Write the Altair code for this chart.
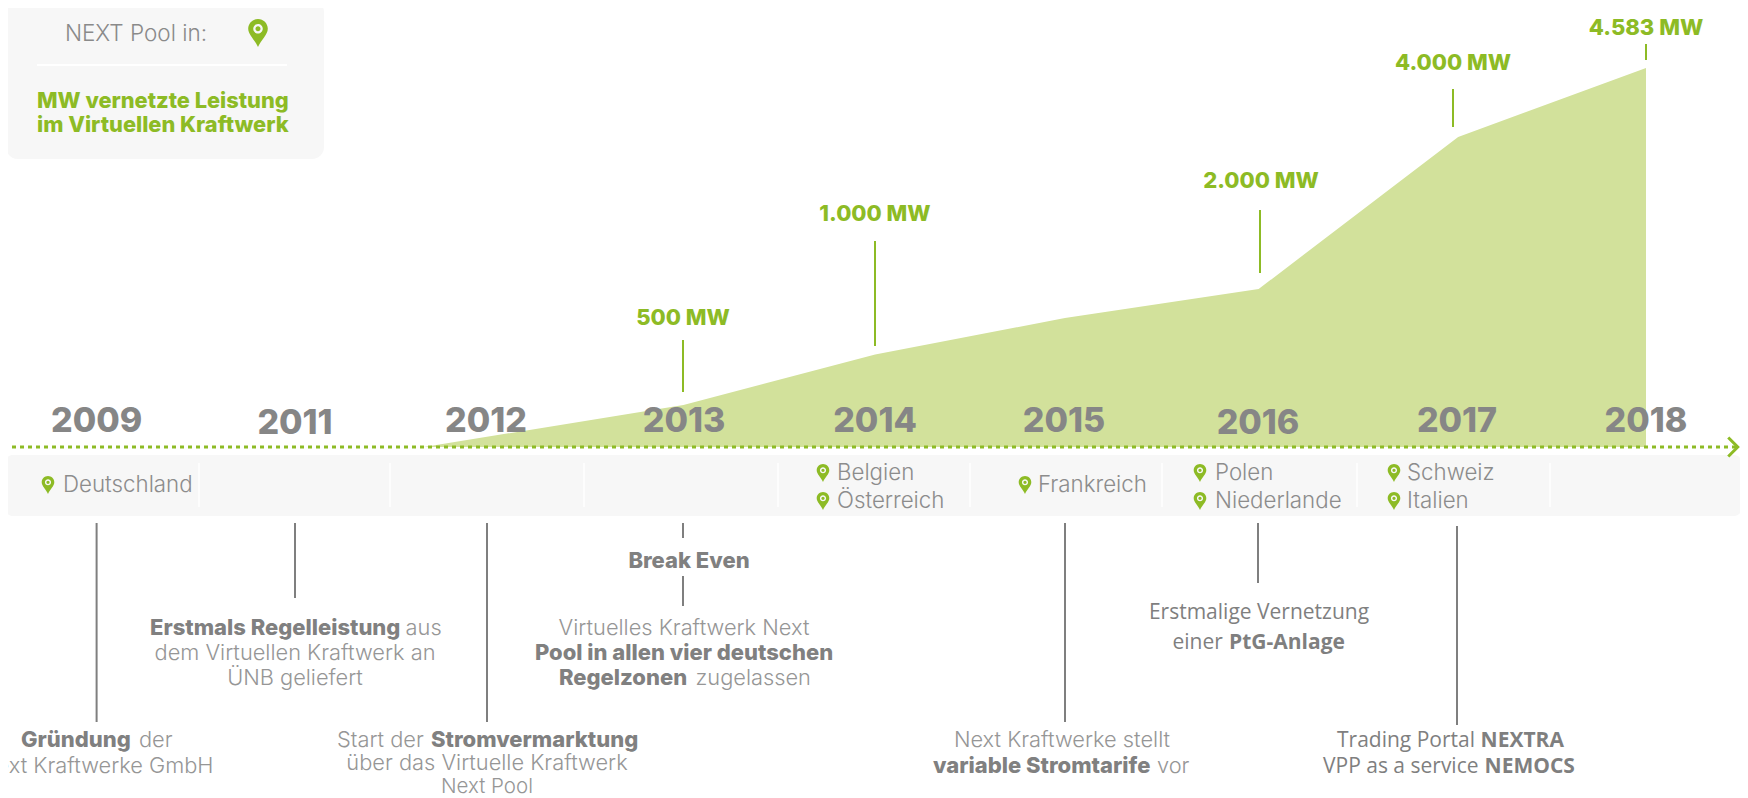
import altair as alt
import pandas as pd

# --- chart values -----------------------------------------------------------
area_pos = [1.69, 3.03, 4.02, 5.0, 6.0, 7.03, 8.0]
area_mw = [0, 508, 1118, 1560, 1910, 3749, 4583]
area_base = [0, 0, 0, 0, 0, 0, 0]

years = ["2009", "2011", "2012", "2013", "2014", "2015", "2016", "2017", "2018"]
mw_labels = ["500 MW", "1.000 MW", "2.000 MW", "4.000 MW", "4.583 MW"]

countries = ["Deutschland", "Belgien", "Österreich", "Frankreich", "Polen",
             "Niederlande", "Schweiz", "Italien"]

# --- annotation layout (reference pixels) ----------------------------------
year_x = [96.6, 295, 486, 684, 875, 1064, 1258, 1457, 1646]
year_y = [422, 424, 422, 422, 422, 422, 424, 422, 422]
mw_x = [683, 875, 1261, 1453, 1646]
mw_y = [318, 214, 181, 63, 28]
mw_rule_x = [683, 875, 1260, 1453, 1646]
mw_rule_y = [340, 241, 210, 89, 44]
mw_rule_y2 = [392, 346, 273, 127, 60]

gray_rule_x = [96.6, 295, 487, 683, 683, 1065, 1258, 1457]
gray_rule_y = [523, 523, 523, 523, 576, 523, 523, 526]
gray_rule_y2 = [722, 598, 722, 538, 606, 722, 583, 725]

sep_x = [199, 390, 584, 778, 970, 1162, 1357, 1550]
country_x = [63, 837, 837, 1038, 1215, 1215, 1407, 1407]
country_y = [485, 473, 501, 485, 473, 501, 473, 501]
pin_x = [48, 823, 823, 1025, 1200, 1200, 1394, 1394]

# text pieces: text, x, y, align, style
pieces = [
    ("Gründung", 21, 740, "left", "b"), ("der", 139, 740, "left", "r"),
    ("Next Kraftwerke GmbH", 213.5, 766, "right", "r"),
    ("Erstmals Regelleistung", 150, 628, "left", "b"), ("aus", 405.6, 628, "left", "r"),
    ("dem Virtuellen Kraftwerk an", 295, 653, "center", "r"),
    ("ÜNB geliefert", 295, 678, "center", "r"),
    ("Break Even", 689, 561, "center", "b"),
    ("Virtuelles Kraftwerk Next", 684, 628, "center", "r"),
    ("Pool in allen vier deutschen", 684, 653, "center", "b"),
    ("Regelzonen", 559, 678, "left", "b"), ("zugelassen", 695.5, 678, "left", "r"),
    ("Start der", 337, 740, "left", "r"), ("Stromvermarktung", 431, 740, "left", "b"),
    ("über das Virtuelle Kraftwerk", 487, 763, "center", "r"),
    ("Next Pool", 487, 787, "center", "rs"),
    ("Next Kraftwerke stellt", 1062, 740, "center", "r"),
    ("variable Stromtarife", 933, 766, "left", "b"), ("vor", 1157, 766, "left", "r"),
    ("Erstmalige Vernetzung", 1259, 613, "center", "cr"),
    ("einer", 1172.5, 643, "left", "cr"), ("PtG-Anlage", 1229, 643, "left", "cb"),
    ("Trading Portal", 1337, 741, "left", "cr"), ("NEXTRA", 1480.6, 741, "left", "cb"),
    ("VPP as a service", 1323, 767, "left", "cr"), ("NEMOCS", 1484.6, 767, "left", "cb"),
]

# --- page ---------------------------------------------------------------------
W, H = 1732, 790
GREEN = "#8DBB25"
AREA = "#D2E19B"
BAND = "#F7F7F7"
PIN = ("M0,1 C-0.22,0.5 -0.7,0.12 -0.7,-0.3 A0.7,0.7 0 1 1 0.7,-0.3 "
       "C0.7,0.12 0.22,0.5 0,1 Z "
       "M0,-0.64 A0.34,0.34 0 1 0 0,0.04 A0.34,0.34 0 1 0 0,-0.64 Z "
       "M0,-0.48 A0.18,0.18 0 1 1 0,-0.12 A0.18,0.18 0 1 1 0,-0.48 Z")

px = alt.Scale(domain=[8, 8 + W], range=[0, W])
py = alt.Scale(domain=[8, 8 + H], range=[0, H])


def X(f="x"):
    return alt.X(f"{f}:Q", scale=px, axis=None)


def Y(f="y"):
    return alt.Y(f"{f}:Q", scale=py, axis=None)


def rects(xs, x2s, ys, y2s, color, radius):
    d = pd.DataFrame({"x": xs, "x2": x2s, "y": ys, "y2": y2s})
    return alt.Chart(d).mark_rect(color=color, cornerRadius=radius).encode(
        x=X(), x2="x2:Q", y=Y(), y2="y2:Q")


def rules(xs, ys, y2s, color, width):
    d = pd.DataFrame({"x": xs, "y": ys, "y2": y2s})
    return alt.Chart(d).mark_rule(color=color, strokeWidth=width).encode(
        x=X(), y=Y(), y2="y2:Q")


def texts(labels, xs, ys, align="center", **kw):
    d = pd.DataFrame({"t": labels, "x": xs, "y": ys})
    return alt.Chart(d).mark_text(align=align, baseline="middle", **kw).encode(
        x=X(), y=Y(), text="t:N")


def pins(xs, ys, size):
    d = pd.DataFrame({"x": xs, "y": ys})
    return alt.Chart(d).mark_point(shape=PIN, size=size, filled=True, color=GREEN,
                                   opacity=1, strokeWidth=0).encode(x=X(), y=Y())


area_df = pd.DataFrame({"pos": area_pos, "mw": area_mw, "base": area_base})
area = alt.Chart(area_df).mark_area(color=AREA, opacity=1, interpolate="linear").encode(
    x=alt.X("pos:Q", axis=None,
            scale=alt.Scale(domain=[0, 8], range=[88.6, 1638], zero=False, nice=False)),
    y=alt.Y("mw:Q", axis=None,
            scale=alt.Scale(domain=[0, 4583], range=[439, 60], nice=False)),
    y2="base:Q",
)

legend_box = rects([6], [324], [0], [159], BAND, 12)
band = rects([5], [1742], [455], [516], BAND, 8)
seps = rules(sep_x, [463] * 8, [507] * 8, "#FFFFFF", 1.5)
legend_sep = alt.Chart(pd.DataFrame({"x": [37], "x2": [287], "y": [65]})).mark_rule(
    color="#FFFFFF", strokeWidth=2).encode(x=X(), x2="x2:Q", y=Y())

baseline = alt.Chart(pd.DataFrame({"x": [4], "x2": [1736], "y": [447]})).mark_rule(
    color=GREEN, strokeWidth=3, strokeDash=[4, 4]).encode(x=X(), x2="x2:Q", y=Y())
arrow = alt.Chart(pd.DataFrame({"x": [1733], "y": [447]})).mark_point(
    shape="M-0.5,-1 L0.5,0 L-0.5,1", size=361, filled=False, color=GREEN,
    strokeWidth=3, opacity=1).encode(x=X(), y=Y())

year_text = texts(years, year_x, year_y, font="Inter", fontSize=34, fontWeight=800,
                  color="#868686")
mw_text = texts(mw_labels, mw_x, mw_y, font="Inter", fontSize=22, fontWeight=800,
                color=GREEN)
mw_rules = rules(mw_rule_x, mw_rule_y, mw_rule_y2, GREEN, 2)
gray_rules = rules(gray_rule_x, gray_rule_y, gray_rule_y2, "#7F7F7F", 2)

legend_t1 = texts(["NEXT Pool in:"], [136], [34], font="Inter", fontSize=22.5, fontWeight=300,
                  color="#8A8A8A")
legend_t2 = texts(["MW vernetzte Leistung", "im Virtuellen Kraftwerk"], [37, 37], [101, 125],
                  align="left", font="Inter", fontSize=21.8, fontWeight=800, color=GREEN)
legend_pin = pins([258], [33], 784)

country_text = texts(countries, country_x, country_y, align="left", font="Inter",
                     fontSize=22.3, fontWeight=300, color="#8C8C8C")
country_pins = pins(pin_x, country_y, 324)

styles = {
    "r": dict(font="Inter", fontSize=21.8, fontWeight=300, color="#969696"),
    "rs": dict(font="Inter", fontSize=20.5, fontWeight=300, color="#969696"),
    "b": dict(font="Inter", fontSize=22, fontWeight=800, color="#808080"),
    "cr": dict(font="Open Sans", fontSize=21, fontWeight=400, color="#7F7F7F"),
    "cb": dict(font="Open Sans", fontSize=21, fontWeight=700, color="#7F7F7F"),
}
piece_layers = []
for style, kw in styles.items():
    for al in ["left", "center", "right"]:
        sel = [p for p in pieces if p[4] == style and p[3] == al]
        if sel:
            piece_layers.append(texts([p[0] for p in sel], [p[1] for p in sel],
                                      [p[2] for p in sel], align=al, **kw))

chart = alt.layer(
    legend_box, legend_sep, band, seps, area, baseline, arrow, mw_rules, mw_text,
    gray_rules, year_text, legend_t1, legend_t2, legend_pin, country_text, country_pins,
    *piece_layers,
).resolve_scale(x="independent", y="independent").properties(
    width=W, height=H, autosize=alt.AutoSizeParams(type="none"), padding=0,
    background="#FFFFFF",
).configure_view(stroke=None)

chart.save("out.html", embed_options={"renderer": "svg", "actions": False})
